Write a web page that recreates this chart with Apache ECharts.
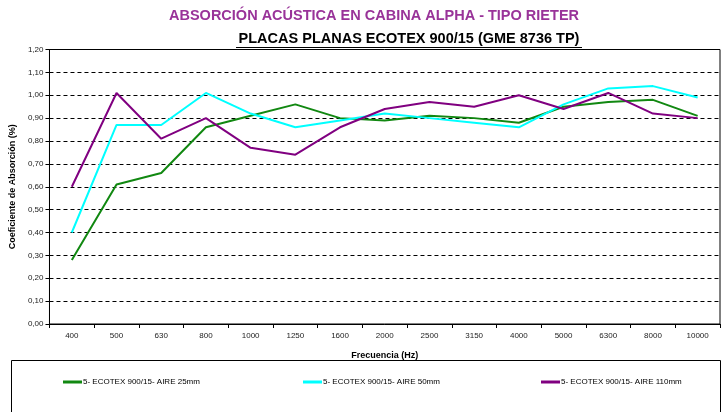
<!DOCTYPE html>
<html>
<head>
<meta charset="utf-8">
<script src="https://cdn.jsdelivr.net/npm/echarts@6/dist/echarts.min.js"></script>
<style>
html,body{margin:0;padding:0;background:#fff;}
#chart{width:725px;height:412px;}
</style>
</head>
<body>
<div id="chart"></div>
<script>
var categories = ['400','500','630','800','1000','1250','1600','2000','2500','3150','4000','5000','6300','8000','10000'];
var seriesNames = ['5- ECOTEX 900/15- AIRE 25mm','5- ECOTEX 900/15- AIRE 50mm','5- ECOTEX 900/15- AIRE 110mm'];
var aire25 = [0.28,0.61,0.66,0.86,0.91,0.96,0.90,0.89,0.91,0.90,0.88,0.95,0.97,0.98,0.91];
var aire50 = [0.40,0.87,0.87,1.01,0.92,0.86,0.89,0.92,0.90,0.88,0.86,0.96,1.03,1.04,0.99];
var aire110 = [0.60,1.01,0.81,0.90,0.77,0.74,0.86,0.94,0.97,0.95,1.00,0.94,1.01,0.92,0.90];
var titleText = 'ABSORCIÓN ACÚSTICA EN CABINA ALPHA - TIPO RIETER';
var subtitleText = 'PLACAS PLANAS ECOTEX 900/15 (GME 8736 TP)';
var colors = ['#118811','#00FFFF','#800080'];

var chart = echarts.init(document.getElementById('chart'));
var FF = '"Liberation Sans", Arial, sans-serif';
function mkSeries(name, data, color){
  return {name:name, type:'line', data:data, symbol:'none', smooth:false,
    lineStyle:{color:color, width:2}, itemStyle:{color:color}};
}
var legendLefts = [58, 298, 536];
var legends = seriesNames.map(function(n,i){
  return {data:[n], left:legendLefts[i], top:373, icon:'rect', itemWidth:19, itemHeight:3, itemGap:0,
    textStyle:{fontSize:8, color:'#000', fontFamily:FF, padding:[0,0,0,-4]}, selectedMode:false};
});
chart.setOption({
  animation:false,
  color:colors,
  graphic:[
    {type:'text', style:{text:titleText, x:374, y:16, textAlign:'center', textVerticalAlign:'middle', fill:'#993399', font:'bold 14.5px "Liberation Sans", Arial, sans-serif'}},
    {type:'text', style:{text:subtitleText, x:409, y:39, textAlign:'center', textVerticalAlign:'middle', fill:'#000', font:'bold 14.5px "Liberation Sans", Arial, sans-serif'}},
    {type:'line', shape:{x1:236, y1:47.5, x2:582, y2:47.5}, style:{stroke:'#000', lineWidth:1}},
    {type:'rect', shape:{x:11.5, y:360.5, width:709, height:60}, style:{fill:'none', stroke:'#000', lineWidth:1}}
  ],
  legend:legends,
  grid:{left:43, right:5, top:49.5, bottom:88, show:true, borderColor:'#000', borderWidth:1, backgroundColor:'transparent'},
  xAxis:{type:'category', data:categories, boundaryGap:true,
    name:'Frecuencia (Hz)', nameLocation:'middle', nameGap:27,
    nameTextStyle:{fontSize:9, fontWeight:'bold', color:'#000', fontFamily:FF},
    axisLine:{lineStyle:{color:'#000', width:1}},
    axisTick:{show:true, length:4, lineStyle:{color:'#000'}, alignWithLabel:false},
    axisLabel:{fontSize:8, color:'#222', fontFamily:FF, margin:8, interval:0},
    splitLine:{show:false}},
  yAxis:{type:'value', min:0, max:1.2, interval:0.1,
    name:'Coeficiente de Absorción (%)', nameLocation:'middle', nameGap:30, nameRotate:90,
    nameTextStyle:{fontSize:9, fontWeight:'bold', color:'#000', fontFamily:FF},
    axisLine:{show:true, lineStyle:{color:'#000', width:1}},
    axisTick:{show:true, length:4, lineStyle:{color:'#000'}},
    axisLabel:{fontSize:8, color:'#222', fontFamily:FF, margin:6,
      formatter:function(v){return v.toFixed(2).replace('.', ',');}},
    splitLine:{show:true, lineStyle:{color:'#000', type:[4,3], width:1}}},
  series:[mkSeries(seriesNames[0], aire25, colors[0]), mkSeries(seriesNames[1], aire50, colors[1]), mkSeries(seriesNames[2], aire110, colors[2])]
});
</script>
</body>
</html>
